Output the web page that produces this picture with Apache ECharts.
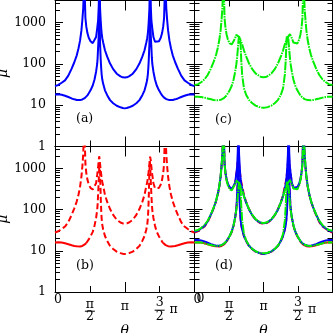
<!DOCTYPE html>
<html><head><meta charset="utf-8">
<script src="https://cdn.jsdelivr.net/npm/echarts@6/dist/echarts.min.js"></script>
<style>html,body{margin:0;padding:0;background:#fff}#c{width:333px;height:333px}</style>
</head><body><div id="c"></div>
<script>
// ---- data (theta in radians, mu values) ----
const theta = [0, 0.15, 0.3, 0.45, 0.6, 0.75, 0.87, 0.98, 1.06, 1.13, 1.19, 1.23, 1.27, 1.30, 1.32, 1.34, 1.37, 1.41, 1.46, 1.52, 1.60, 1.70, 1.78, 1.85, 1.90, 1.92, 1.94, 1.97, 1.99, 2.00, 2.01, 2.03, 2.06, 2.08, 2.10, 2.13, 2.17, 2.25, 2.35, 2.48, 2.62, 2.78, 2.95, 3.05, 3.1416,
  3.2332, 3.3332, 3.5032, 3.6632, 3.8032, 3.9332, 4.0332, 4.1132, 4.1532, 4.1832, 4.2032, 4.2232, 4.2532, 4.2732, 4.2832, 4.2932, 4.3132, 4.3432, 4.3632, 4.3832, 4.4332, 4.5032, 4.5832, 4.6832, 4.7632, 4.8232, 4.8732, 4.9132, 4.9432, 4.9632, 4.9832, 5.0132, 5.0532, 5.0932, 5.1532, 5.2232, 5.3032, 5.4132, 5.5332, 5.6832, 5.8332, 5.9832, 6.1332, 6.2832];

const blueUpper = [29, 31, 35, 40, 52, 77, 110, 162, 240, 372, 650, 1130, 2200, 6000, 20000, 5000, 1300, 800, 560, 430, 355, 320, 345, 450, 720, 900, 1100, 2500, 8000, 20000, 8000, 2200, 1100, 750, 560, 420, 330, 215, 150, 102, 75, 58, 50, 47.5, 47,
  47.5, 50, 58, 75, 102, 150, 215, 330, 420, 560, 750, 1100, 2200, 8000, 20000, 8000, 2500, 1100, 900, 720, 450, 345, 320, 355, 430, 560, 800, 1300, 5000, 20000, 6000, 2200, 1130, 650, 372, 240, 162, 110, 77, 52, 40, 35, 31, 29];
const blueLower = [18.3, 18.5, 18.0, 17.0, 15.8, 14.6, 13.9, 13.4, 13.3, 13.3, 13.5, 13.8, 14.1, 14.4, 14.6, 14.9, 15.3, 16.0, 17.3, 19.5, 23, 30, 42, 65, 100, 140, 240, 500, 2000, 20000, 1200, 320, 125, 80, 57, 42, 33, 23, 17.5, 13.3, 11.2, 9.7, 8.9, 8.6, 8.4,
  8.6, 8.9, 9.7, 11.2, 13.3, 17.5, 23, 33, 42, 57, 80, 125, 320, 1200, 20000, 2000, 500, 240, 140, 100, 65, 42, 30, 23, 19.5, 17.3, 16.0, 15.3, 14.9, 14.6, 14.4, 14.1, 13.8, 13.5, 13.3, 13.3, 13.4, 13.9, 14.6, 15.8, 17.0, 18.0, 18.5, 18.3];
const redUpper = [28, 30, 34, 39, 50, 75, 108, 160, 235, 365, 640, 1100, 2200, 6000, 20000, 5000, 1300, 780, 540, 410, 340, 310, 335, 440, 700, 860, 1050, 1600, 2000, 1950, 1700, 1300, 900, 720, 600, 470, 380, 230, 155, 104, 75, 57, 49, 46.5, 46,
  46.5, 49, 57, 75, 104, 155, 230, 380, 470, 600, 720, 900, 1300, 1700, 1950, 2000, 1600, 1050, 860, 700, 440, 335, 310, 340, 410, 540, 780, 1300, 5000, 20000, 6000, 2200, 1100, 640, 365, 235, 160, 108, 75, 50, 39, 34, 30, 28];
const redLower = [16, 16.2, 16, 15.3, 14.5, 13.7, 13.2, 12.9, 12.8, 12.8, 13.0, 13.2, 13.5, 13.8, 14.0, 14.3, 14.8, 15.5, 16.8, 19, 22.5, 29, 41, 63, 98, 135, 220, 500, 1000, 1400, 1500, 900, 200, 100, 62, 43, 33, 23, 17.5, 13.2, 11.1, 9.6, 8.8, 8.5, 8.4,
  8.5, 8.8, 9.6, 11.1, 13.2, 17.5, 23, 33, 43, 62, 100, 200, 900, 1500, 1400, 1000, 500, 220, 135, 98, 63, 41, 29, 22.5, 19, 16.8, 15.5, 14.8, 14.3, 14.0, 13.8, 13.5, 13.2, 13.0, 12.8, 12.8, 12.9, 13.2, 13.7, 14.5, 15.3, 16, 16.2, 16];
const greenUpper = [31, 32, 36, 42, 54, 78, 112, 165, 245, 380, 660, 1150, 2300, 6000, 20000, 5000, 1250, 760, 520, 390, 315, 298, 330, 420, 510, 540, 530, 500, 480, 470, 460, 445, 420, 400, 380, 340, 300, 215, 152, 104, 76, 59, 51, 48, 47.5,
  48, 51, 59, 76, 104, 152, 215, 300, 340, 380, 400, 420, 445, 460, 470, 480, 500, 530, 540, 510, 420, 330, 298, 315, 390, 520, 760, 1250, 5000, 20000, 6000, 2300, 1150, 660, 380, 245, 165, 112, 78, 54, 42, 36, 32, 31];
const greenLower = [16, 16.1, 15.9, 15.3, 14.5, 13.9, 13.4, 13.2, 13.2, 13.3, 13.5, 13.8, 14.1, 14.4, 14.6, 14.9, 15.3, 16.0, 17.3, 19.5, 23, 30, 42, 64, 95, 115, 145, 220, 300, 350, 400, 470, 510, 480, 300, 120, 55, 26, 18, 13.5, 11.3, 9.8, 9.0, 8.8, 8.7,
  8.8, 9.0, 9.8, 11.3, 13.5, 18, 26, 55, 120, 300, 480, 510, 470, 400, 350, 300, 220, 145, 115, 95, 64, 42, 30, 23, 19.5, 17.3, 16.0, 15.3, 14.9, 14.6, 14.4, 14.1, 13.8, 13.5, 13.3, 13.2, 13.2, 13.4, 13.9, 14.5, 15.3, 15.9, 16.1, 16];

// red lower curve is drawn solid outside this theta window, dashed inside it
const redSolidEnd = 1.41, redSolidStart = 4.8732;

// ---- axes ticks ----
const xLabelTicks = [0, Math.PI / 2, Math.PI, 1.5 * Math.PI];
const xShortTicks = [Math.PI / 2, 1.5 * Math.PI];
const xLongTicks = [0, Math.PI, 2 * Math.PI];
const yMajorTicks = [1, 10, 100, 1000];
const yMinorTicks = [2, 3, 4, 5, 6, 7, 8, 9, 20, 30, 40, 50, 60, 70, 80, 90, 200, 300, 400, 500, 600, 700, 800, 900, 2000, 3000];
const yMin = 1, yMax = 3450;
const panelLabels = ['(a)', '(c)', '(b)', '(d)'];

const FONT = 'DejaVu Serif';
const BLUE = '#0000ff', RED = '#ff0000', GREEN = '#00ee00';

const gridsPos = [
  {left: 55, top: 0.5, width: 139.5, height: 146},
  {left: 194.5, top: 0.5, width: 138, height: 146},
  {left: 55, top: 146.5, width: 139.5, height: 145.5},
  {left: 194.5, top: 146.5, width: 138, height: 145.5}
];
const isLeft = [true, false, true, false];
const isBottom = [false, false, true, true];
const labelPos = [[76, 112], [215, 113], [76, 259], [215, 259]];

function xFmt(v) {
  const r = v / Math.PI;
  if (Math.abs(r) < 1e-3) return '{z|0}';
  if (Math.abs(r - 0.5) < 1e-3) return '{n|π}\n{b| }\n{m|2}';
  if (Math.abs(r - 1) < 1e-3) return '{p|π}';
  if (Math.abs(r - 1.5) < 1e-3) return '{s| }{t|3}{s| }\n{s| }{c| }{q| π}\n{s| }{u|2}{s| }';
  return '';
}
const txt = {fontFamily: FONT, fontSize: 12.5, color: '#000'};
const xRich = {
  z: Object.assign({}, txt, {width: 14, align: 'right', lineHeight: 2}),
  p: Object.assign({}, txt, {lineHeight: 15}),
  n: Object.assign({}, txt, {width: 10, align: 'center', lineHeight: 11}),
  b: {width: 10, height: 1, lineHeight: 2.4, fontSize: 1, backgroundColor: '#000'},
  m: Object.assign({}, txt, {width: 10, align: 'center', lineHeight: 8.8}),
  t: Object.assign({}, txt, {width: 10, align: 'center', lineHeight: 8}),
  c: {width: 10, height: 1, lineHeight: 6.4, fontSize: 1, backgroundColor: '#000'},
  u: Object.assign({}, txt, {width: 10, align: 'center', lineHeight: 6.2}),
  s: {width: 14, lineHeight: 1, fontSize: 1},
  q: Object.assign({}, txt, {width: 14, align: 'left', lineHeight: 1})
};

const grid = [], xAxis = [], yAxis = [];
gridsPos.forEach((g, i) => {
  grid.push(Object.assign({containLabel: false, outerBoundsMode: 'none'}, g));
  const xb = {gridIndex: i, type: 'value', min: 0, max: 2 * Math.PI, splitLine: {show: false}};
  const line = {show: true, onZero: false, lineStyle: {color: '#000', width: 1}};
  const noLine = {show: false, onZero: false};
  const tick = (len, vals) => ({show: true, inside: true, length: len, customValues: vals, lineStyle: {color: '#000', width: 1}});
  xAxis.push(Object.assign({}, xb, {
    position: 'bottom', axisLine: line, axisTick: tick(6, xShortTicks),
    axisLabel: {show: isBottom[i], customValues: xLabelTicks, formatter: xFmt, rich: xRich, margin: 7,
      color: '#000', showMinLabel: true, hideOverlap: false},
    name: isBottom[i] ? 'θ' : '', nameLocation: 'middle', nameGap: 31,
    nameTextStyle: {fontFamily: FONT, fontSize: 14, fontStyle: 'italic', color: '#000'}
  }));
  xAxis.push(Object.assign({}, xb, {position: 'bottom', axisLine: noLine, axisTick: tick(10, xLongTicks), axisLabel: {show: false}}));
  xAxis.push(Object.assign({}, xb, {position: 'top', axisLine: line, axisTick: tick(6, xShortTicks), axisLabel: {show: false}}));
  xAxis.push(Object.assign({}, xb, {position: 'top', axisLine: noLine, axisTick: tick(10, xLongTicks), axisLabel: {show: false}}));

  const yb = {gridIndex: i, type: 'log', logBase: 10, min: yMin, max: yMax, splitLine: {show: false}};
  yAxis.push(Object.assign({}, yb, {
    position: 'left', axisLine: line, axisTick: tick(8, yMajorTicks),
    axisLabel: {show: isLeft[i], customValues: yMajorTicks, formatter: v => String(Math.round(v)), margin: 9,
      fontFamily: FONT, fontSize: 12.5, color: '#000', showMinLabel: true},
    name: isLeft[i] ? 'μ' : '', nameLocation: 'middle', nameRotate: 90, nameGap: 40,
    nameTextStyle: {fontFamily: FONT, fontSize: 14, fontStyle: 'italic', color: '#000'}
  }));
  yAxis.push(Object.assign({}, yb, {position: 'left', axisLine: noLine, axisTick: tick(5, yMinorTicks), axisLabel: {show: false}}));
  yAxis.push(Object.assign({}, yb, {position: 'right', axisLine: line, axisTick: tick(8, yMajorTicks), axisLabel: {show: false}}));
  yAxis.push(Object.assign({}, yb, {position: 'right', axisLine: noLine, axisTick: tick(5, yMinorTicks), axisLabel: {show: false}}));
});

function pairs(vals, keep) {
  return theta.map((t, k) => [t, (!keep || keep(t)) ? vals[k] : null]);
}
function mkSeries(panel, vals, color, type, keep) {
  return {
    type: 'line', xAxisIndex: panel * 4, yAxisIndex: panel * 4, data: pairs(vals, keep),
    showSymbol: false, symbol: 'none', animation: false, clip: true, connectNulls: false,
    lineStyle: {color: color, width: 2, type: type}, silent: true
  };
}
const DASH = [6, 3], DASHDOT = [9, 1, 1.5, 1];
const solidPart = t => t <= redSolidEnd || t >= redSolidStart;
const dashPart = t => t >= redSolidEnd && t <= redSolidStart;

const series = [
  mkSeries(0, blueUpper, BLUE, 'solid'),
  mkSeries(0, blueLower, BLUE, 'solid'),
  mkSeries(1, greenUpper, GREEN, DASHDOT),
  mkSeries(1, greenLower, GREEN, DASHDOT),
  mkSeries(2, redUpper, RED, DASH),
  mkSeries(2, redLower, RED, 'solid', solidPart),
  mkSeries(2, redLower, RED, DASH, dashPart),
  mkSeries(3, redUpper, RED, DASH),
  mkSeries(3, redLower, RED, 'solid', solidPart),
  mkSeries(3, redLower, RED, DASH, dashPart),
  mkSeries(3, blueUpper, BLUE, 'solid'),
  mkSeries(3, blueLower, BLUE, 'solid'),
  mkSeries(3, greenUpper, GREEN, DASHDOT),
  mkSeries(3, greenLower, GREEN, DASHDOT)
];

const graphic = panelLabels.map((t, i) => ({
  type: 'text', left: labelPos[i][0], top: labelPos[i][1],
  style: {text: t, font: '12.5px "DejaVu Serif"', fill: '#000'}
}));

const chart = echarts.init(document.getElementById('c'), null, {renderer: 'canvas'});
chart.setOption({animation: false, backgroundColor: '#fff', grid, xAxis, yAxis, series, graphic});

// the "0" tick label of panel (d) is hidden by the library (it sits on the shared edge), so place it
// at the library's own pixel position for theta = 0 on that axis
const p0 = chart.convertToPixel({xAxisIndex: 12}, 0);
chart.setOption({graphic: graphic.concat([{
  type: 'text', x: p0 + 2, y: 298.5,
  style: {text: '0', font: '12.5px "DejaVu Serif"', fill: '#000', align: 'left', verticalAlign: 'middle'}
}])});
</script>
</body></html>
